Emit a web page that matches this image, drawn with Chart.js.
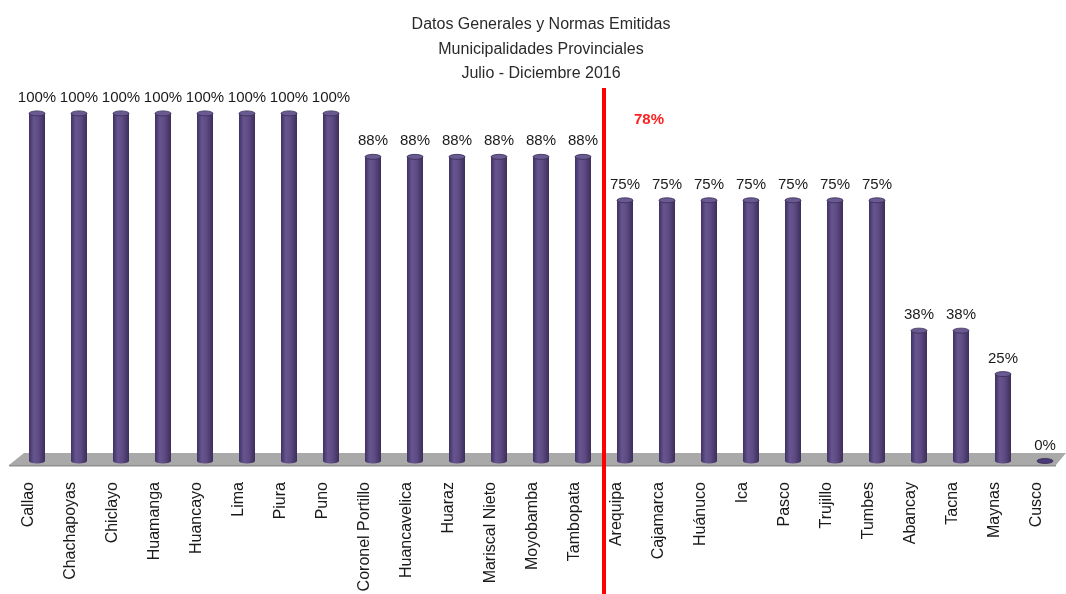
<!DOCTYPE html>
<html>
<head>
<meta charset="utf-8">
<script src="https://cdn.jsdelivr.net/npm/chart.js@4.4.0/dist/chart.umd.min.js"></script>
<style>
  html, body { margin: 0; padding: 0; background: #fff; }
  #wrap { width: 1066px; height: 594px; }
</style>
</head>
<body>
<div id="wrap"><canvas id="grafico"></canvas></div>
<script>
// Datos del gráfico
const categorias = ['Callao', 'Chachapoyas', 'Chiclayo', 'Huamanga', 'Huancayo', 'Lima', 'Piura', 'Puno',
    'Coronel Portillo', 'Huancavelica', 'Huaraz', 'Mariscal Nieto', 'Moyobamba', 'Tambopata',
    'Arequipa', 'Cajamarca', 'Huánuco', 'Ica', 'Pasco', 'Trujillo', 'Tumbes', 'Abancay', 'Tacna', 'Maynas', 'Cusco'];
const valores = [100, 100, 100, 100, 100, 100, 100, 100,
    87.5, 87.5, 87.5, 87.5, 87.5, 87.5,
    75, 75, 75, 75, 75, 75, 75, 37.5, 37.5, 25, 0];
const titulo = ['Datos Generales y Normas Emitidas', 'Municipalidades Provinciales', 'Julio - Diciembre 2016'];
const promedio = 78;
const posicionCorte = 13.5; // entre Tambopata y Arequipa

// Piso gris en perspectiva
const pisoPlugin = {
    id: 'piso',
    beforeDatasetsDraw(chart) {
        const { ctx, chartArea } = chart;
        const y0 = chart.scales.y.getPixelForValue(0);
        ctx.save();
        ctx.beginPath();
        ctx.moveTo(chartArea.left + 8, y0 - 8);
        ctx.lineTo(chartArea.right, y0 - 8);
        ctx.lineTo(chartArea.right - 10, y0 + 4);
        ctx.lineTo(chartArea.left - 7, y0 + 4);
        ctx.closePath();
        ctx.fillStyle = '#a9a9a9';
        ctx.fill();
        ctx.fillStyle = '#909090';
        ctx.fillRect(chartArea.left - 7, y0 + 4, chartArea.right - chartArea.left - 3, 1.5);
        ctx.restore();
    }
};

// Efecto cilindro, etiquetas y línea de promedio
const cilindroPlugin = {
    id: 'cilindro',
    afterDatasetsDraw(chart) {
        const { ctx } = chart;
        const meta = chart.getDatasetMeta(0);
        ctx.save();
        meta.data.forEach((bar, i) => {
            const w = bar.width;
            const left = bar.x - w / 2;
            const top = bar.y;
            const base = bar.base;
            const g = ctx.createLinearGradient(left, 0, left + w, 0);
            g.addColorStop(0, '#3f3162');
            g.addColorStop(0.3, '#67558f');
            g.addColorStop(0.6, '#5e4b84');
            g.addColorStop(1, '#3c2e5a');
            if (base - top > 0) {
                ctx.fillStyle = g;
                ctx.fillRect(left, top, w, base - top);
            }
            // fondo redondeado
            ctx.beginPath();
            ctx.ellipse(bar.x, base, w / 2, 2.5, 0, 0, Math.PI);
            ctx.fillStyle = g;
            ctx.fill();
            // tapa superior
            ctx.beginPath();
            ctx.ellipse(bar.x, top, w / 2, 2.5, 0, 0, Math.PI * 2);
            ctx.fillStyle = valores[i] === 0 ? '#4a3a78' : '#6a5a92';
            ctx.fill();
            ctx.strokeStyle = '#3a2d55';
            ctx.lineWidth = 0.8;
            ctx.stroke();

            // etiqueta de valor
            ctx.fillStyle = '#1a1a1a';
            ctx.font = '15px "Liberation Sans", Arial, sans-serif';
            ctx.textAlign = 'center';
            ctx.textBaseline = 'bottom';
            ctx.fillText(Math.round(valores[i]) + '%', bar.x, top - 8);
        });

        // línea roja de promedio
        const x = chart.scales.x.getPixelForValue(posicionCorte);
        ctx.strokeStyle = '#ff0000';
        ctx.lineWidth = 4;
        ctx.beginPath();
        ctx.moveTo(x, 88);
        ctx.lineTo(x, chart.height);
        ctx.stroke();

        ctx.fillStyle = '#ff2020';
        ctx.font = 'bold 15px "Liberation Sans", Arial, sans-serif';
        ctx.textAlign = 'center';
        ctx.textBaseline = 'middle';
        ctx.fillText(promedio + '%', x + 45, 120);
        ctx.restore();
    }
};

const grafico = new Chart(document.getElementById('grafico').getContext('2d'), {
    type: 'bar',
    data: {
        labels: categorias,
        datasets: [{
            data: valores,
            backgroundColor: '#574878',
            borderWidth: 0,
            categoryPercentage: 1,
            barPercentage: 0.38
        }]
    },
    options: {
        responsive: true,
        maintainAspectRatio: false,
        animation: false,
        layout: { padding: { left: 16, right: 0, top: 0, bottom: 0 } },
        plugins: {
            legend: { display: false },
            tooltip: { enabled: false },
            title: {
                display: true,
                text: titulo,
                color: '#2a2a2a',
                font: { family: '"Liberation Sans", Arial, sans-serif', size: 16, weight: 'normal', lineHeight: 1.55 },
                padding: { top: 12, bottom: 27 }
            }
        },
        scales: {
            y: {
                display: false,
                min: 0,
                max: 100
            },
            x: {
                grid: { display: false, drawTicks: false },
                border: { display: false },
                afterFit(scale) {
                    scale.height = 133;
                    scale.paddingLeft = 0;
                    scale.paddingRight = 0;
                },
                ticks: {
                    autoSkip: false,
                    minRotation: 90,
                    maxRotation: 90,
                    padding: 21,
                    labelOffset: -8,
                    color: '#1a1a1a',
                    font: { family: '"Liberation Sans", Arial, sans-serif', size: 16 }
                }
            }
        }
    },
    plugins: [pisoPlugin, cilindroPlugin]
});
</script>
</body>
</html>
